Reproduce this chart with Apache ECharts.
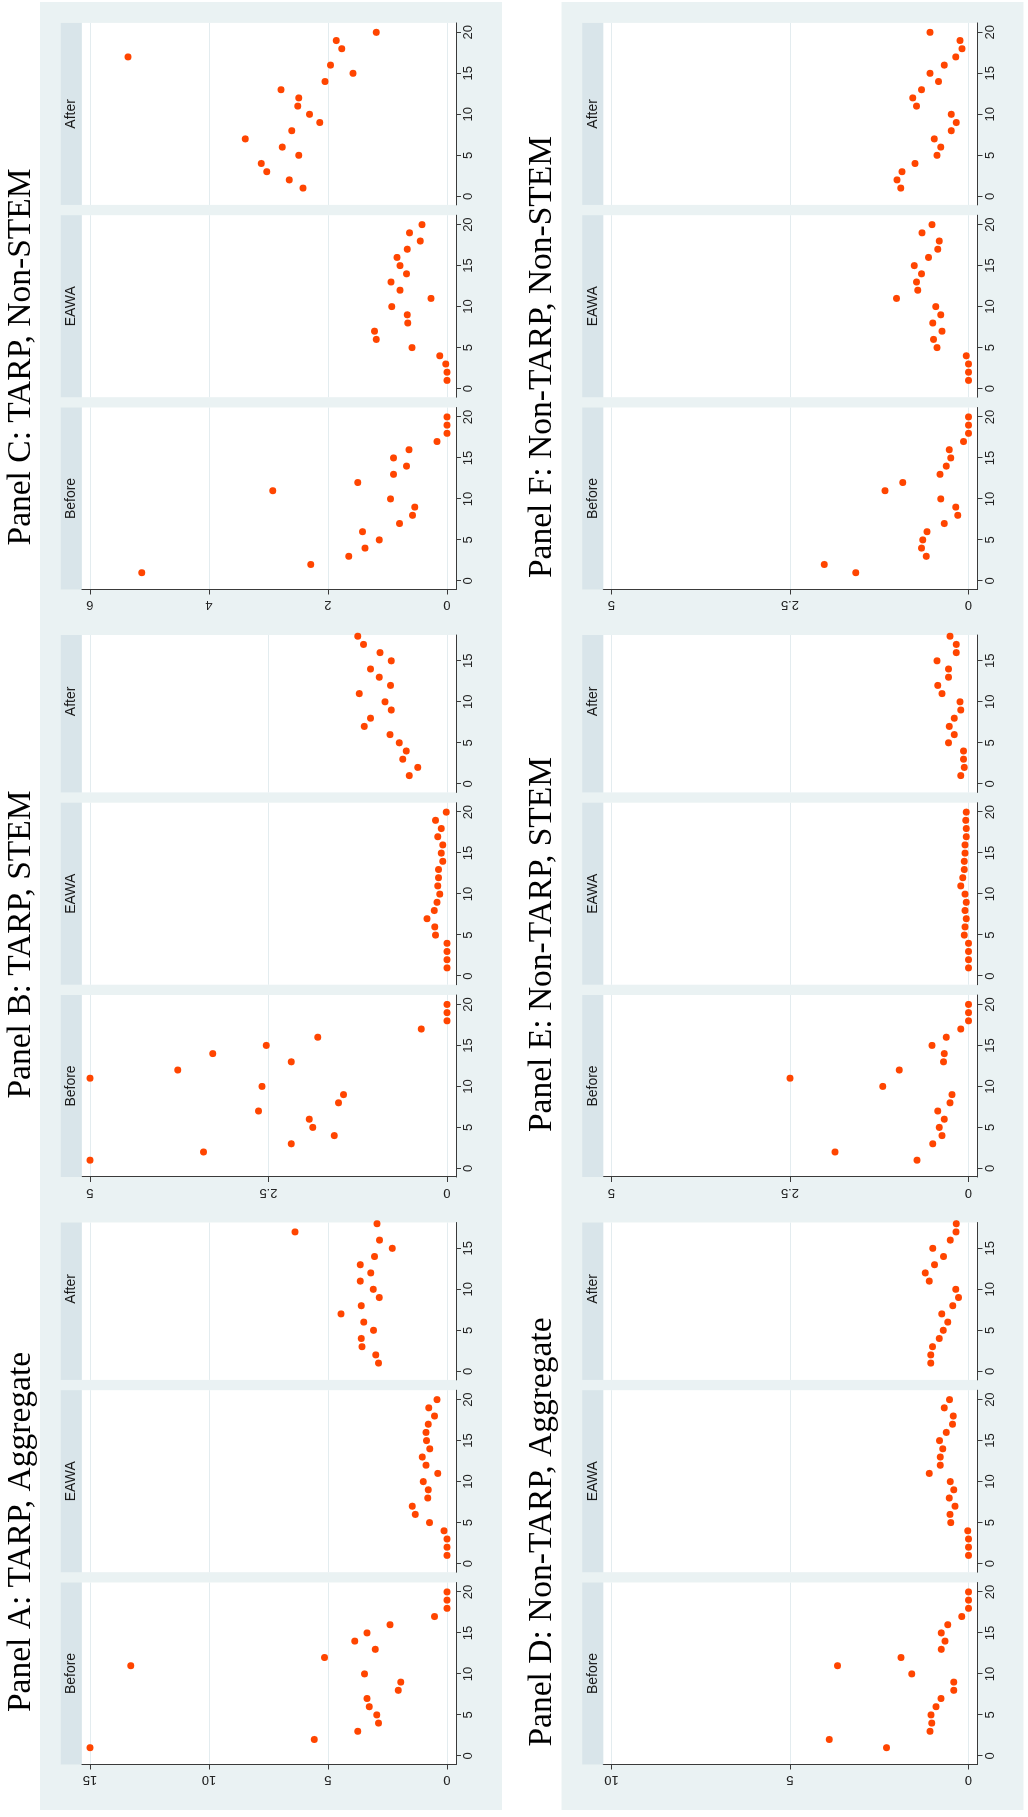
<!DOCTYPE html>
<html>
<head>
<meta charset="utf-8">
<script src="https://cdn.jsdelivr.net/npm/echarts@6/dist/echarts.min.js"></script>
<style>
  html, body { margin: 0; padding: 0; background: #fff; }
  #page { position: relative; width: 1028px; height: 1817px; overflow: hidden; }
  /* the figure is drawn landscape and turned a quarter left, as in the source page */
  #chart { position: absolute; left: 0; top: 0; width: 1817px; height: 1028px;
           transform-origin: 0 0; transform: translate(0, 1817px) rotate(-90deg); }
</style>
</head>
<body>
<div id="page"><div id="chart"></div></div>
<script>
const periods = [1, 2, 3, 4, 5, 6, 7, 8, 9, 10, 11, 12, 13, 14, 15, 16, 17, 18, 19, 20];
const xTicks = [0, 5, 10, 15, 20];
const stripLabels = ['Before', 'EAWA', 'After'];
const panelTitles = [
  'Panel A: TARP, Aggregate', 'Panel B: TARP, STEM', 'Panel C: TARP, Non-STEM',
  'Panel D: Non-TARP, Aggregate', 'Panel E: Non-TARP, STEM', 'Panel F: Non-TARP, Non-STEM'
];
const yTicksA = [0, 5, 10, 15];
const yTicksB = [0, 2.5, 5];
const yTicksC = [0, 2, 4, 6];
const yTicksD = [0, 5, 10];
const yTicksE = [0, 2.5, 5];
const yTicksF = [0, 2.5, 5];

// Panel A: TARP, Aggregate
const aBefore = [15.0, 5.58, 3.75, 2.88, 2.95, 3.27, 3.36, 2.05, 1.94, 3.47, 13.29, 5.15, 3.01, 3.88, 3.36, 2.40, 0.52, 0, 0, 0];
const aEawa   = [0, 0, 0, 0.13, 0.74, 1.33, 1.46, 0.81, 0.79, 1.0, 0.39, 0.88, 1.04, 0.73, 0.86, 0.88, 0.79, 0.53, 0.77, 0.42];
const aAfter  = [2.88, 2.99, 3.57, 3.60, 3.09, 3.50, 4.45, 3.60, 2.85, 3.10, 3.65, 3.20, 3.65, 3.05, 2.30, 2.84, 6.39, 2.94];
// Panel B: TARP, STEM
const bBefore = [5.0, 3.41, 2.18, 1.58, 1.88, 1.93, 2.64, 1.52, 1.45, 2.59, 5.0, 3.77, 2.18, 3.28, 2.53, 1.81, 0.36, 0, 0, 0];
const bEawa   = [0, 0, 0, 0, 0.16, 0.17, 0.28, 0.18, 0.14, 0.10, 0.13, 0.12, 0.12, 0.06, 0.08, 0.06, 0.13, 0.08, 0.16, 0.01];
const bAfter  = [0.53, 0.41, 0.62, 0.57, 0.67, 0.80, 1.16, 1.07, 0.78, 0.87, 1.23, 0.79, 0.95, 1.07, 0.78, 0.94, 1.17, 1.25];
// Panel C: TARP, Non-STEM
const cBefore = [5.13, 2.29, 1.65, 1.38, 1.14, 1.42, 0.80, 0.58, 0.54, 0.95, 2.93, 1.50, 0.90, 0.68, 0.90, 0.64, 0.17, 0, 0, 0];
const cEawa   = [0, 0, 0.02, 0.12, 0.59, 1.19, 1.22, 0.66, 0.67, 0.93, 0.27, 0.79, 0.94, 0.68, 0.79, 0.84, 0.67, 0.45, 0.63, 0.42];
const cAfter  = [2.42, 2.65, 3.03, 3.12, 2.49, 2.77, 3.39, 2.61, 2.14, 2.31, 2.51, 2.49, 2.79, 2.05, 1.58, 1.96, 5.36, 1.77, 1.86, 1.19];
// Panel D: Non-TARP, Aggregate
const dBefore = [2.30, 3.90, 1.08, 1.03, 1.05, 0.91, 0.77, 0.41, 0.41, 1.59, 3.67, 1.89, 0.76, 0.66, 0.76, 0.58, 0.19, 0, 0, 0];
const dEawa   = [0, 0, 0, 0.02, 0.50, 0.52, 0.38, 0.54, 0.41, 0.51, 1.10, 0.79, 0.79, 0.72, 0.81, 0.62, 0.45, 0.43, 0.68, 0.53];
const dAfter  = [1.06, 1.06, 1.01, 0.82, 0.71, 0.58, 0.75, 0.44, 0.28, 0.36, 1.10, 1.21, 0.95, 0.70, 1.00, 0.51, 0.35, 0.34];
// Panel E: Non-TARP, STEM
const eBefore = [0.72, 1.87, 0.50, 0.37, 0.41, 0.34, 0.43, 0.26, 0.23, 1.20, 2.50, 0.97, 0.35, 0.34, 0.51, 0.31, 0.11, 0, 0, 0];
const eEawa   = [0, 0, 0, 0, 0.06, 0.05, 0.03, 0.05, 0.03, 0.05, 0.11, 0.08, 0.06, 0.06, 0.05, 0.05, 0.03, 0.03, 0.04, 0.03];
const eAfter  = [0.11, 0.06, 0.07, 0.07, 0.28, 0.20, 0.27, 0.20, 0.11, 0.12, 0.37, 0.43, 0.28, 0.28, 0.44, 0.17, 0.17, 0.26];
// Panel F: Non-TARP, Non-STEM
const fBefore = [1.58, 2.02, 0.59, 0.66, 0.64, 0.58, 0.34, 0.15, 0.18, 0.39, 1.17, 0.92, 0.40, 0.31, 0.25, 0.27, 0.07, 0, 0, 0];
const fEawa   = [0, 0, 0, 0.03, 0.44, 0.49, 0.37, 0.50, 0.39, 0.46, 1.01, 0.71, 0.73, 0.66, 0.76, 0.56, 0.43, 0.41, 0.65, 0.51];
const fAfter  = [0.95, 1.00, 0.93, 0.75, 0.44, 0.39, 0.48, 0.24, 0.17, 0.24, 0.73, 0.78, 0.66, 0.42, 0.54, 0.34, 0.18, 0.09, 0.12, 0.54];

const panels = [
  { yTicks: yTicksA, sets: [aBefore, aEawa, aAfter] },
  { yTicks: yTicksB, sets: [bBefore, bEawa, bAfter] },
  { yTicks: yTicksC, sets: [cBefore, cEawa, cAfter] },
  { yTicks: yTicksD, sets: [dBefore, dEawa, dAfter] },
  { yTicks: yTicksE, sets: [eBefore, eEawa, eAfter] },
  { yTicks: yTicksF, sets: [fBefore, fEawa, fAfter] }
];

// layout, in the unrotated 1817 x 1028 frame
const W = 1817, H = 1028;
const ROW_OFF = 521.5;
const REGION_X0 = 7, REGION_X1 = 1815, REGION_Y0 = 40, REGION_H = 462;
const PANEL_STEP = 587.5;
const PLOT_X0 = 52.5, SUB_STEP = 192.3, SUB_W = 182;
const STRIP_Y = 60.7, STRIP_H = 21;
const PLOT_Y = 81.7, PLOT_H = 374.3;
const X_MIN = -1.05, X_MAX = 21.15;

const ORANGE = '#FF4500';
const BG = '#EAF2F3';
const STRIP = '#D9E5EA';
const GRIDLINE = '#E3ECEF';
const AXIS = '#3a3a3a';
const SANS = 'Liberation Sans, Arial, sans-serif';
const SERIF = 'Liberation Serif, Times New Roman, serif';

const grids = [], xAxes = [], yAxes = [], series = [];
const graphics = [
  // white page margins around the two light figure bands
  { type: 'rect', z: 1, shape: { x: 0, y: 0, width: W, height: REGION_Y0 }, style: { fill: '#fff' } },
  { type: 'rect', z: 1, shape: { x: 0, y: REGION_Y0 + REGION_H, width: W, height: ROW_OFF - REGION_H }, style: { fill: '#fff' } },
  { type: 'rect', z: 1, shape: { x: 0, y: ROW_OFF + REGION_Y0 + REGION_H, width: W, height: 20 }, style: { fill: '#fff' } },
  { type: 'rect', z: 1, shape: { x: 0, y: 0, width: REGION_X0, height: H }, style: { fill: '#fff' } },
  { type: 'rect', z: 1, shape: { x: REGION_X1, y: 0, width: W - REGION_X1, height: H }, style: { fill: '#fff' } }
];

panels.forEach((p, pi) => {
  const row = Math.floor(pi / 3), col = pi % 3;
  const off = row * ROW_OFF;
  const top = p.yTicks[p.yTicks.length - 1];
  const yMin = -top * 9 / 357, yMax = top * (1 + 8.3 / 357);
  // the next panel's image lies over the end of this one (not for the last column)
  const clipX = col < 2 ? REGION_X0 + PANEL_STEP * (col + 1) : Infinity;

  graphics.push({
    type: 'text', z: 2,
    style: {
      text: panelTitles[pi], x: 285 + PANEL_STEP * col, y: 21 + off,
      align: 'center', verticalAlign: 'middle',
      font: '33.5px ' + SERIF, fill: '#000'
    }
  });

  p.sets.forEach((vals, si) => {
    const gi = grids.length;
    const left = PLOT_X0 + PANEL_STEP * col + SUB_STEP * si;
    let width = SUB_W, xMax = X_MAX;
    if (left + SUB_W > clipX) {
      width = clipX - left;
      xMax = X_MIN + width * (X_MAX - X_MIN) / SUB_W;
    }
    grids.push({
      left: left, top: PLOT_Y + off, width: width, height: PLOT_H,
      show: true, backgroundColor: '#fff', borderWidth: 0,
      containLabel: false, outerBoundsMode: 'none'
    });
    graphics.push({
      type: 'rect', z: 2,
      shape: { x: left, y: STRIP_Y + off, width: width, height: STRIP_H },
      style: { fill: STRIP }
    });
    graphics.push({
      type: 'text', z: 3,
      style: {
        text: stripLabels[si], x: left + SUB_W / 2, y: STRIP_Y + off + STRIP_H / 2,
        align: 'center', verticalAlign: 'middle', font: '14px ' + SANS, fill: '#1a1a1a'
      }
    });
    xAxes.push({
      type: 'value', gridIndex: gi, min: X_MIN, max: xMax, position: 'bottom',
      axisLine: { show: true, onZero: false, lineStyle: { color: AXIS, width: 1 } },
      axisTick: { show: true, customValues: xTicks, length: 5, lineStyle: { color: AXIS } },
      axisLabel: { customValues: xTicks, fontSize: 13, fontFamily: SANS, color: '#222', margin: 6 },
      splitLine: { show: false }
    });
    const first = si === 0;
    yAxes.push({
      type: 'value', gridIndex: gi, min: yMin, max: yMax, position: 'left',
      axisLine: { show: first, onZero: false, lineStyle: { color: AXIS, width: 1 } },
      axisTick: { show: first, customValues: p.yTicks, length: 5, lineStyle: { color: AXIS } },
      axisLabel: {
        show: first, customValues: p.yTicks, rotate: 90, fontSize: 13, fontFamily: SANS,
        color: '#222', margin: 9
      },
      splitLine: { show: true, lineStyle: { color: GRIDLINE, width: 1 } }
    });
    series.push({
      type: 'scatter', xAxisIndex: gi, yAxisIndex: gi,
      symbol: 'circle', symbolSize: 7,
      itemStyle: { color: ORANGE, opacity: 1 },
      data: vals.map((v, k) => [periods[k], v]),
      animation: false
    });
  });
});

const chart = echarts.init(document.getElementById('chart'), null, { width: W, height: H });
chart.setOption({
  backgroundColor: BG,
  animation: false,
  grid: grids,
  xAxis: xAxes,
  yAxis: yAxes,
  series: series,
  graphic: { elements: graphics }
});
</script>
</body>
</html>
